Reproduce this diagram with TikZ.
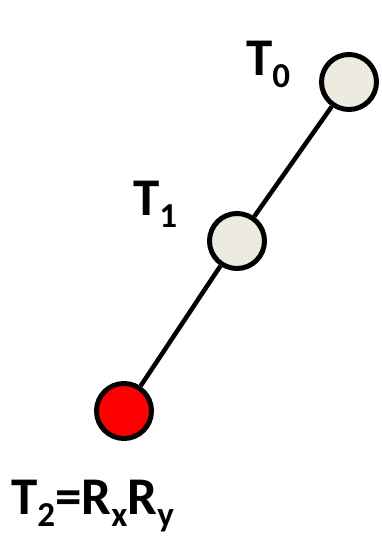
\documentclass[tikz,border=0pt]{standalone}
\usepackage{fontspec}
\setmainfont{Carlito}
\usepackage{tikz}
\definecolor{NodeBeige}{RGB}{237, 235, 224}
\definecolor{NodeRed}{RGB}{255, 0, 0}
\newcommand{\lowsub}[1]{\raisebox{-0.24em}{\fontsize{35}{35}\selectfont #1}}
\tikzset{
  joint/.style={circle, draw=black, line width=5pt, minimum size=55pt,
    inner sep=0pt, fill=NodeBeige},
  endjoint/.style={joint, fill=NodeRed},
  link/.style={line width=4.5pt, draw=black},
  tlabel/.style={font=\fontsize{53}{53}\selectfont\bfseries, inner sep=0pt,
    anchor=base west},
}

\begin{document}
\begin{tikzpicture}[x=1pt, y=1pt]
  \useasboundingbox (0,0) rectangle (381,-536);
  \node[joint]    (t0) at (349,-82)  {};
  \node[joint]    (t1) at (237,-241) {};
  \node[endjoint] (t2) at (124,-411) {};
  \draw[link] (t0) -- (t1);
  \draw[link] (t1) -- (t2);
  \node[tlabel] (l0) at (246,-75)  {T\lowsub{0}};
  \node[tlabel] (l1) at (133,-215) {T\lowsub{1}};
  \node[tlabel] (l2) at (11,-514)  {T\lowsub{2}=R\lowsub{x}R\lowsub{y}};
\end{tikzpicture}
\end{document}
